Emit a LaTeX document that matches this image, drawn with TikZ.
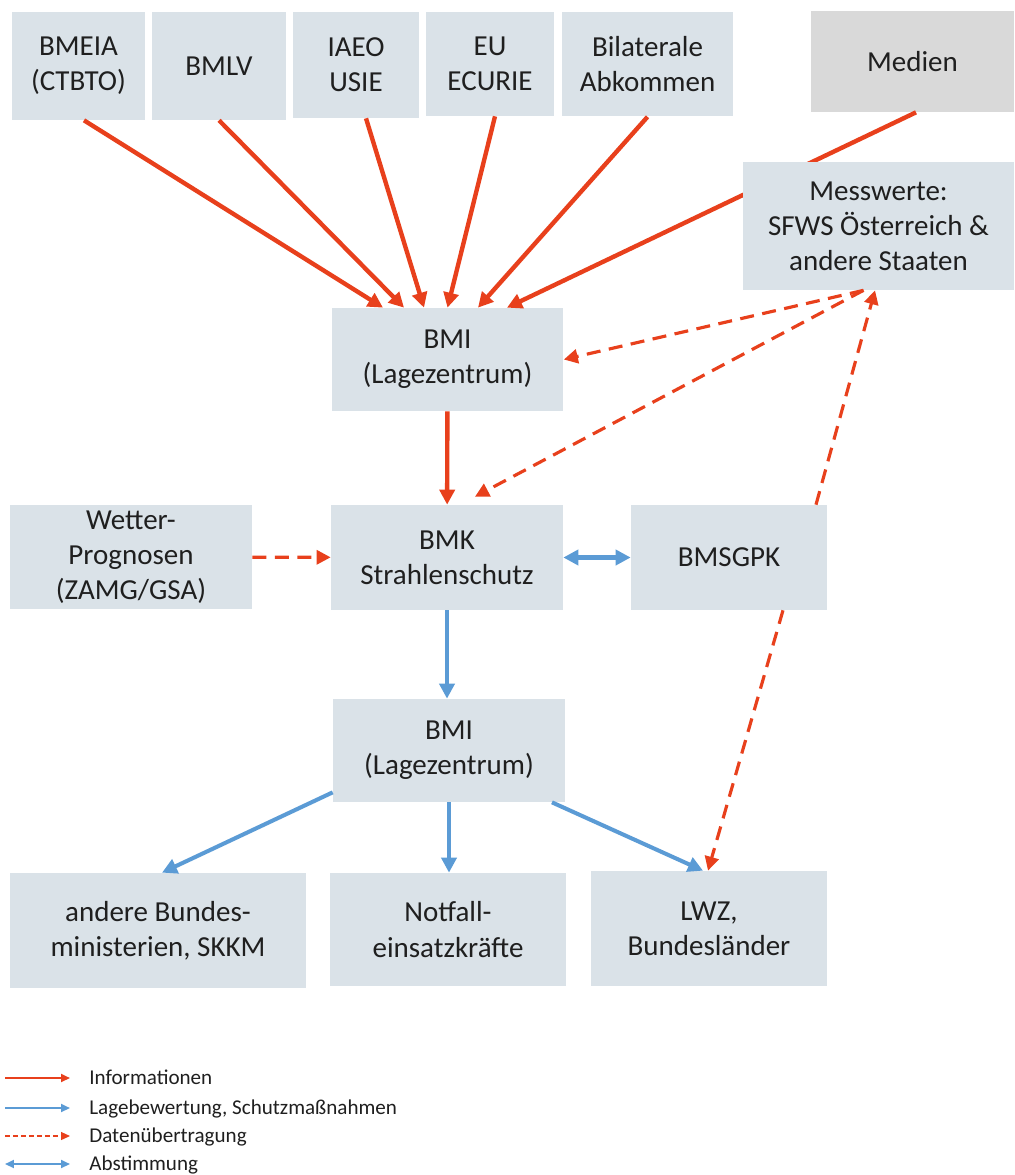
\documentclass[tikz,border=0pt]{standalone}
\usepackage{fontspec}
\setmainfont{Carlito}
\usetikzlibrary{arrows.meta}

\definecolor{infored}{HTML}{E8401C}
\definecolor{lageblue}{HTML}{5B9BD5}
\definecolor{boxfill}{HTML}{DAE2E8}
\definecolor{medienfill}{HTML}{D9D9D9}
\definecolor{txt}{HTML}{1F1F1F}

\tikzset{
    box/.style={fill=boxfill, inner sep=0pt, align=center, text=txt, font=\fontsize{16.5}{20}\selectfont},
    legtext/.style={inner sep=0pt, anchor=base west, text=txt, font=\fontsize{12}{14}\selectfont},
    info/.style={infored, line width=2.5pt, -{Triangle[length=0.3cm,width=0.3cm]}},
    lage/.style={lageblue, line width=2.3pt, -{Triangle[length=0.3cm,width=0.3cm]}},
    daten/.style={infored, line width=1.8pt, dash pattern=on 0.28cm off 0.17cm, -{Triangle[length=0.28cm,width=0.28cm]}},
    abst/.style={lageblue, line width=2.3pt, {Triangle[length=0.3cm,width=0.3cm]}-{Triangle[length=0.3cm,width=0.3cm]}},
}

\begin{document}
\begin{tikzpicture}[x=0.02cm, y=-0.02cm]
    \useasboundingbox (0,0) rectangle (1014,1175);

    \node[box, minimum width=2.66cm, minimum height=2.16cm] (bmeia) at (78.5,66) {BMEIA\\(CTBTO)};
    \node[box, minimum width=2.68cm, minimum height=2.16cm] (bmlv) at (219,66) {BMLV};
    \node[box, minimum width=2.52cm, minimum height=2.12cm] (iaeo) at (356,65) {IAEO\\USIE};
    \node[box, minimum width=2.56cm, minimum height=2.08cm] (eu) at (490,64) {EU\\ECURIE};
    \node[box, minimum width=3.42cm, minimum height=2.1cm] (bilat) at (647.5,64) {Bilaterale\\Abkommen};
    \node[box, fill=medienfill, minimum width=4.06cm, minimum height=2.02cm] (medien) at (912.5,61.5) {Medien};
    \node[box, minimum width=4.64cm, minimum height=2.06cm] (bmi) at (447.5,359.5) {BMI\\(Lagezentrum)};

    \draw[info]([xshift=0.07cm]medien.south)--([xshift=1.19cm]bmi.north);

    \node[box, minimum width=5.42cm, minimum height=2.56cm] (mess) at (878.5,226) {Messwerte:\\SFWS Österreich \&\\andere Staaten};
    \node[box, minimum width=4.84cm, minimum height=2.08cm] (wetter) at (131,557) {Wetter-\\Prognosen\\(ZAMG/GSA)};
    \node[box, minimum width=4.64cm, minimum height=2.1cm] (bmk) at (447,557.5) {BMK\\Strahlenschutz};
    \node[box, minimum width=3.92cm, minimum height=2.1cm] (bmsgpk) at (729,557.5) {BMSGPK};
    \node[box, minimum width=4.64cm, minimum height=2.06cm] (lz) at (449,750.5) {BMI\\(Lagezentrum)};
    \node[box, minimum width=5.92cm, minimum height=2.3cm] (andere) at (158,930.5) {andere Bundes-\\ministerien, SKKM};
    \node[box, minimum width=4.72cm, minimum height=2.26cm] (notfall) at (448,929.5) {Notfall-\\einsatzkräfte};
    \node[box, minimum width=4.72cm, minimum height=2.3cm] (lwz) at (709,928.5) {LWZ,\\Bundesländer};

    \draw[info]([xshift=0.11cm]bmeia.south)--([xshift=-1.29cm]bmi.north);
    \draw[info](bmlv.south)--([xshift=-0.87cm]bmi.north);
    \draw[info]([xshift=0.2cm]iaeo.south)--([xshift=-0.47cm]bmi.north);
    \draw[info]([xshift=0.1cm]eu.south)--(bmi.north);
    \draw[info](bilat.south)--([xshift=0.61cm]bmi.north);
    \draw[info](bmi)--(bmk);

    \draw[daten]([xshift=-0.3cm]mess.south)--(bmi.east);
    \draw[daten]([xshift=-0.3cm]mess.south)--([xshift=0.56cm,yshift=0.16cm]bmk.north);
    \draw[daten]([xshift=1.74cm]bmsgpk.north)--([xshift=-0.07cm]mess.south);
    \draw[daten]([xshift=1.08cm]bmsgpk.south)--([xshift=-0.02cm]lwz.north);
    \draw[daten](wetter)--(bmk);

    \draw[abst](bmk.east)--(bmsgpk.west);
    \draw[lage](bmk.south)--(bmk.south |- lz.north);
    \draw[lage]([yshift=0.2cm]lz.south west)--([xshift=0.08cm]andere.north);
    \draw[lage](lz.south)--(lz.south |- notfall.north);
    \draw[lage]([xshift=2.06cm]lz.south)--([xshift=-0.12cm]lwz.north);

    \node[legtext] (tinfo) at (89,1084) {Informationen};
    \node[legtext] (tlage) at (89,1114) {Lagebewertung, Schutzmaßnahmen};
    \node[legtext] (tdaten) at (89,1142) {Datenübertragung};
    \node[legtext] (tabst) at (89,1170) {Abstimmung};
    \coordinate (linfo) at (5,1078);
    \coordinate (llage) at (5,1108);
    \coordinate (ldaten) at (5,1136);
    \coordinate (labst) at (5,1164);

    \draw[info, line width=1.1pt, -{Triangle[length=0.18cm,width=0.16cm]}](linfo)--++(65,0);
    \draw[lage, line width=1.1pt, -{Triangle[length=0.18cm,width=0.16cm]}](llage)--++(65,0);
    \draw[daten, line width=0.7pt, dash pattern=on 0.1cm off 0.06cm, -{Triangle[length=0.18cm,width=0.16cm]}](ldaten)--++(65,0);
    \draw[abst, line width=1.1pt, {Triangle[length=0.18cm,width=0.16cm]}-{Triangle[length=0.18cm,width=0.16cm]}](labst)--++(65,0);
\end{tikzpicture}
\end{document}
